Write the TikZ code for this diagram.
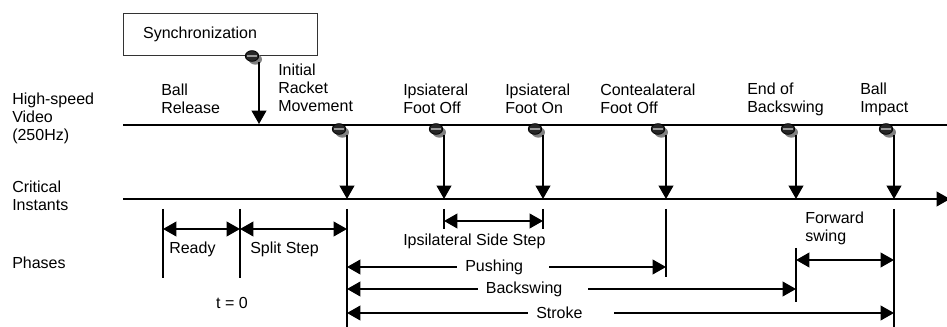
\documentclass[tikz,border=0pt]{standalone}
\usepackage{fontspec}
\setmainfont{Liberation Sans}
\usetikzlibrary{arrows.meta, shapes.geometric, shadows}
\newcommand{\lblfont}{\fontsize{12}{13.5}\selectfont}
\tikzset{
  lbl/.style      = {inner sep=0pt, align=left, anchor=west, font=\lblfont},
  syncbox/.style  = {draw=black!80, line width=0.6pt, fill=white, minimum width=146pt,
                     minimum height=31.5pt, text width=116pt, inner xsep=15pt,
                     align=left, font=\lblfont},
  knob/.style     = {ellipse, draw=black, fill=black!85, minimum width=10pt,
                     minimum height=8pt, inner sep=0pt, line width=0.6pt,
                     drop shadow={shadow xshift=2.5pt, shadow yshift=-2.5pt, fill=black!50, opacity=1},
                     path picture={\draw[black!40, line width=0.8pt]
                       ([xshift=1.5pt]path picture bounding box.west) --
                       ([xshift=-1.5pt]path picture bounding box.east);}},
  timeline/.style = {line width=1.3pt},
  evarrow/.style  = {-{Triangle[length=10pt, width=11pt]}, line width=1.3pt},
  phase/.style    = {{Triangle[length=10pt, width=11pt]}-{Triangle[length=10pt, width=11pt]},
                     line width=1.3pt},
  tick/.style     = {line width=1.3pt},
  gaplabel/.style = {fill=white, inner xsep=6pt, inner ysep=1pt, align=left, font=\lblfont},
}

\begin{document}
\begin{tikzpicture}[x=0.75pt, y=-0.75pt]
  \useasboundingbox (0,0) rectangle (947,327);

  % row titles
  \node[lbl] (tVideo)  at (12,118) {High-speed\\Video\\(250Hz)};
  \node[lbl] (tCrit)   at (12,196) {Critical\\Instants};
  \node[lbl] (tPhases) at (12,263) {Phases};

  % synchronization
  \node[syncbox] (sync) at (220.5,34) {Synchronization};
  \coordinate (tSync) at (259,124);
  \node[knob] (kSync) at (252,56) {};
  \draw[evarrow] (kSync.south -| tSync) -- (tSync);

  % time lines
  \coordinate (vidL) at (123,125);
  \coordinate (vidR) at (950,125);
  \coordinate (critL) at (123,199);
  \coordinate (critR) at (950,199);
  \draw[timeline] (vidL) -- (vidR);
  \draw[evarrow] (critL) -- (critR);

  % event labels
  \node[lbl] (eBR)  at (161,99) {Ball\\Release};
  \node[lbl] (eIRM) at (278,88) {Initial\\Racket\\Movement};
  \node[lbl] (eIFO) at (403,99) {Ipsiateral\\Foot Off};
  \node[lbl] (eIFN) at (505,99) {Ipsiateral\\Foot On};
  \node[lbl] (eCFO) at (600,99) {Contealateral\\Foot Off};
  \node[lbl] (eEoB) at (747,99) {End of\\Backswing};
  \node[lbl] (eBI)  at (860,99) {Ball\\Impact};

  % markers and arrows to critical instants
  \coordinate (tIRM) at (347,199);
  \coordinate (tIFO) at (444,199);
  \coordinate (tIFN) at (543,199);
  \coordinate (tCFO) at (666,199);
  \coordinate (tEoB) at (796,199);
  \coordinate (tBI)  at (894,199);
  \node[knob] (kIRM) at (339,129) {};
  \node[knob] (kIFO) at (436,129) {};
  \node[knob] (kIFN) at (535,129) {};
  \node[knob] (kCFO) at (658,129) {};
  \node[knob] (kEoB) at (788,129) {};
  \node[knob] (kBI)  at (886,129) {};
  \draw[evarrow] (kIRM.south -| tIRM) -- (tIRM);
  \draw[evarrow] (kIFO.south -| tIFO) -- (tIFO);
  \draw[evarrow] (kIFN.south -| tIFN) -- (tIFN);
  \draw[evarrow] (kCFO.south -| tCFO) -- (tCFO);
  \draw[evarrow] (kEoB.south -| tEoB) -- (tEoB);
  \draw[evarrow] (kBI.south -| tBI) -- (tBI);

  % phase boundaries
  \draw[tick] (163,209) -- (163,278);
  \draw[tick] (240,209) -- (240,278);
  \draw[tick] (347,209) -- (347,330);
  \draw[tick] (444,209) -- (444,229);
  \draw[tick] (543,209) -- (543,229);
  \draw[tick] (666,209) -- (666,277);
  \draw[tick] (796,248) -- (796,302);
  \draw[tick] (894,209) -- (894,330);

  % phases
  \coordinate (pReadyL) at (163,229);
  \coordinate (pReadyR) at (240,229);
  \coordinate (pSplitR) at (347,229);
  \draw[phase] (pReadyL) -- (pReadyR);
  \draw[phase] (pReadyR) -- (pSplitR);
  \node[lbl] (lReady) at (169,249) {Ready};
  \node[lbl] (lSplit) at (250,249) {Split Step};
  \node[lbl, anchor=center] (lTzero) at (232,303) {t = 0};

  \coordinate (pSideL) at (444,221);
  \coordinate (pSideR) at (543,221);
  \draw[phase] (pSideL) -- (pSideR);
  \node[lbl] (lSide) at (403,241) {Ipsilateral Side Step};

  \coordinate (pPushL) at (347,267);
  \coordinate (pPushR) at (666,267);
  \draw[phase] (pPushL) -- node[gaplabel, pos=0.49, text width=57pt] (lPush) {Pushing} (pPushR);

  \coordinate (pBackL) at (347,289);
  \coordinate (pBackR) at (796,289);
  \draw[phase] (pBackL) -- node[gaplabel, pos=0.414, text width=70.5pt] (lBack) {Backswing} (pBackR);

  \coordinate (pStrokeL) at (347,313);
  \coordinate (pStrokeR) at (894,313);
  \draw[phase] (pStrokeL) -- node[gaplabel, pos=0.41, text width=52.5pt] (lStroke) {Stroke} (pStrokeR);

  \coordinate (pFwdL) at (796,260);
  \coordinate (pFwdR) at (894,260);
  \draw[phase] (pFwdL) -- (pFwdR);
  \node[lbl] (lFwd) at (805,228) {Forward\\swing};
\end{tikzpicture}
\end{document}
